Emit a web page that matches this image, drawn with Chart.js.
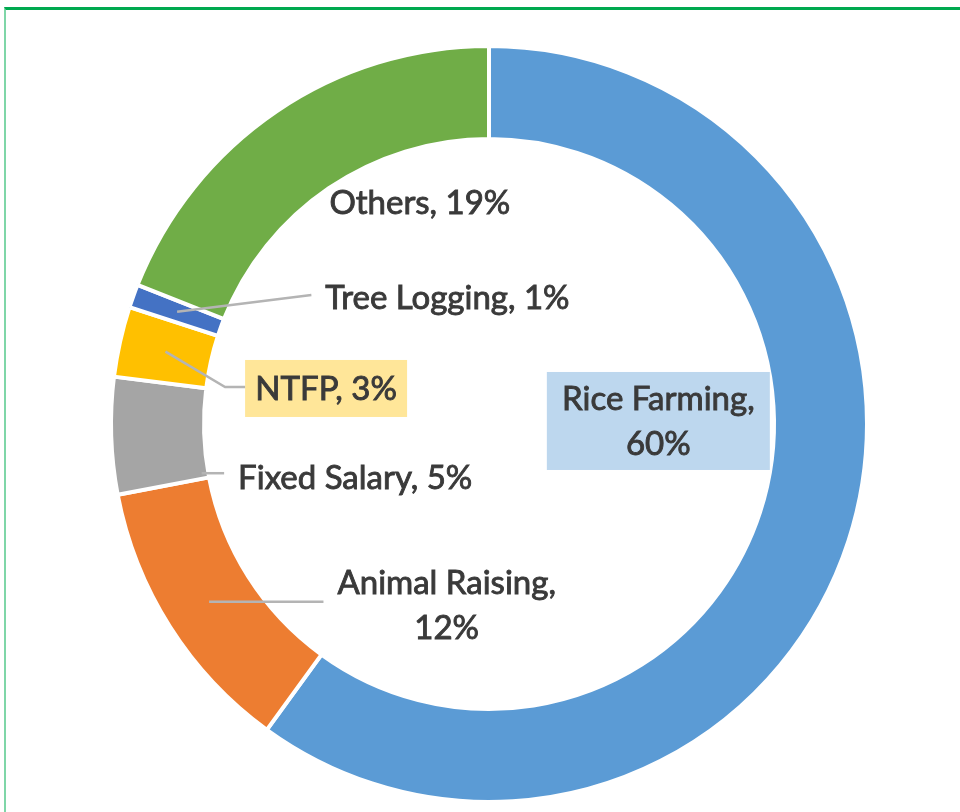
<!DOCTYPE html>
<html>
<head>
<meta charset="utf-8">
<script src="https://cdn.jsdelivr.net/npm/chart.js@4.4.0/dist/chart.umd.min.js"></script>
<style>
  html, body { margin: 0; padding: 0; background: #fff; }
  #wrap { position: relative; width: 960px; height: 812px; overflow: hidden; }
  #frame {
    position: absolute; left: 4px; top: 7px; right: -10px; bottom: -10px;
    border-top: 3px solid #00a94f; border-left: 2px solid #7fd6a8;
  }
  #chart { position: absolute; left: 0; top: 0; }
</style>
</head>
<body>
<div id="wrap">
  <div id="frame"></div>
  <canvas id="chart" width="960" height="812"></canvas>
</div>
<script>
'use strict';

// data (clockwise from 12 o'clock)
var categories = ['Rice Farming', 'Animal Raising', 'Fixed Salary', 'NTFP', 'Tree Logging', 'Others'];
var shares = [60, 12, 5, 3, 1, 19];
var sliceColors = ['#5b9bd5', '#ed7d31', '#a5a5a5', '#ffc000', '#4472c4', '#70ad47'];

var LABEL_FONT = '33px Lato, "Open Sans", sans-serif';
var LINE_GAP = 45;

// where each label sits, as offsets from the centre in units of the outer radius
// anchor = [fraction along the slice angle, fraction across the ring] for the leader line
var labelLayout = [
  { dx: 0.448, dy: -0.008, wrap: true, box: '#bdd7ee', boxW: 223, boxH: 98 },
  { dx: -0.112, dy: 0.478, wrap: true, anchor: [0.5, 0.5], gap: 14 },
  { dx: -0.354, dy: 0.139, anchor: [0.06, 0.07], gap: 14 },
  { dx: -0.431, dy: -0.094, box: '#ffe699', boxW: 162, boxH: 57, anchor: [0.5, 0.5], gap: 0, elbow: 20 },
  { dx: -0.110, dy: -0.337, anchor: [0.5, 0.5], gap: 14 },
  { dx: -0.183, dy: -0.586 }
];

var sliceLabels = {
  id: 'sliceLabels',
  afterDatasetsDraw: function (chart) {
    var ctx = chart.ctx;
    var arcs = chart.getDatasetMeta(0).data;
    ctx.save();
    ctx.font = LABEL_FONT;
    var capH = ctx.measureText('H').actualBoundingBoxAscent;

    for (var i = 0; i < arcs.length; i++) {
      var p = arcs[i].getProps(['x', 'y', 'startAngle', 'endAngle', 'innerRadius', 'outerRadius'], true);
      var lay = labelLayout[i];
      var lines = lay.wrap
        ? [categories[i] + ',', shares[i] + '%']
        : [categories[i] + ', ' + shares[i] + '%'];

      var cx = p.x + lay.dx * p.outerRadius;
      var cy = p.y + lay.dy * p.outerRadius;
      var maxW = 0;
      lines.forEach(function (l) { maxW = Math.max(maxW, ctx.measureText(l).width); });
      var left = cx - maxW / 2;

      if (lay.box) {
        left = cx - lay.boxW / 2;
        ctx.fillStyle = lay.box;
        ctx.fillRect(left, cy - lay.boxH / 2, lay.boxW, lay.boxH);
      }

      if (lay.anchor) {
        var a = p.startAngle + lay.anchor[0] * (p.endAngle - p.startAngle);
        var rr = p.innerRadius + lay.anchor[1] * (p.outerRadius - p.innerRadius);
        var sx = p.x + rr * Math.cos(a);
        var sy = p.y + rr * Math.sin(a);
        var ex = left - lay.gap;
        var ey = cy - 1.5;
        // nearly level lines are drawn level, like Excel does
        if (!lay.elbow && Math.abs(sy - ey) < 4) ey = sy;
        ctx.beginPath();
        ctx.moveTo(sx, sy);
        if (lay.elbow) ctx.lineTo(ex - lay.elbow, ey);
        ctx.lineTo(ex, ey);
        ctx.strokeStyle = '#b4b4b4';
        ctx.lineWidth = 2.5;
        ctx.stroke();
      }

      ctx.fillStyle = '#3a3a3a';
      ctx.strokeStyle = '#3a3a3a';
      ctx.lineWidth = 0.9;
      ctx.textAlign = 'center';
      ctx.textBaseline = 'alphabetic';
      var top = cy - (lines.length - 1) * LINE_GAP / 2;
      for (var k = 0; k < lines.length; k++) {
        var ly = top + k * LINE_GAP + capH / 2;
        ctx.fillText(lines[k], cx, ly);
        ctx.strokeText(lines[k], cx, ly);
      }
    }
    ctx.restore();
  }
};

var ctx = document.getElementById('chart').getContext('2d');

var chart = new Chart(ctx, {
  type: 'doughnut',
  data: {
    labels: categories,
    datasets: [{
      data: shares,
      backgroundColor: sliceColors,
      borderColor: '#ffffff',
      borderWidth: 4,
      hoverBorderWidth: 4,
      hoverOffset: 0
    }]
  },
  options: {
    responsive: false,
    devicePixelRatio: 1,
    animation: false,
    cutout: '75.4%',
    layout: { padding: { top: 44, bottom: 8, left: 109, right: 91 } },
    plugins: {
      legend: { display: false },
      tooltip: { enabled: false }
    }
  },
  plugins: [sliceLabels]
});
</script>
</body>
</html>
